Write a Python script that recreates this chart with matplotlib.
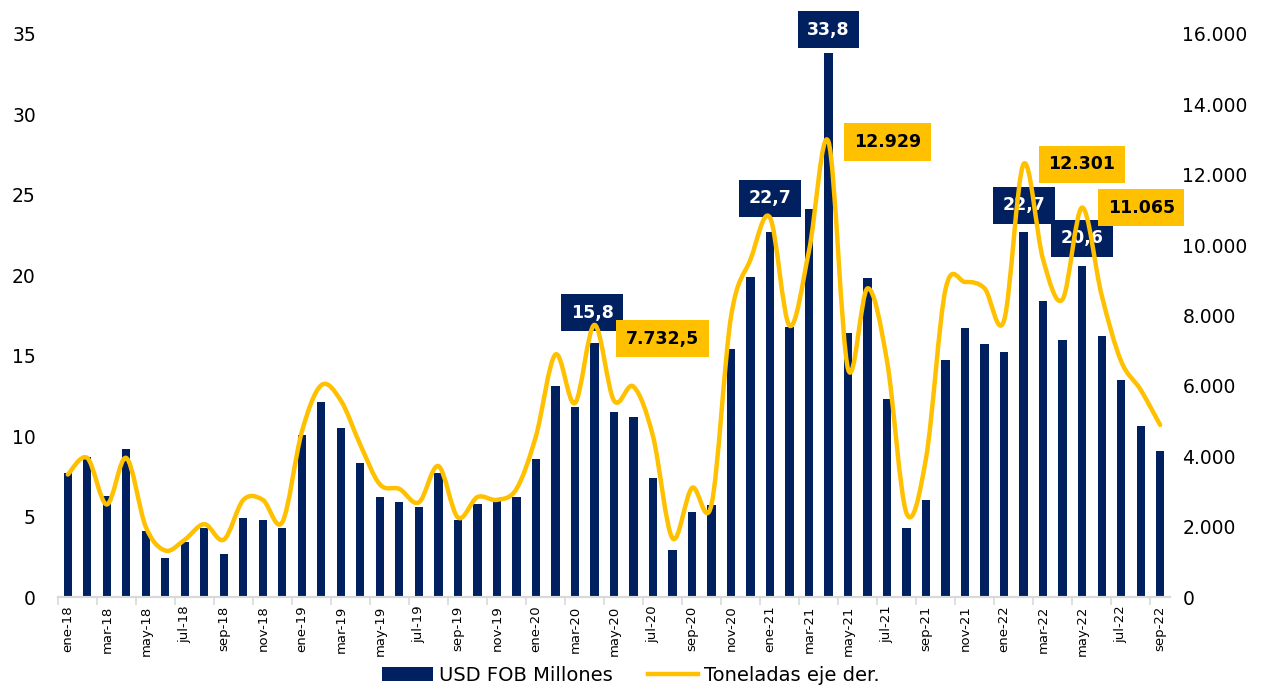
import numpy as np
import matplotlib.pyplot as plt
from matplotlib.path import Path
from matplotlib.patches import PathPatch, Patch
from matplotlib.lines import Line2D
from matplotlib.ticker import FuncFormatter

meses = ['ene', 'feb', 'mar', 'abr', 'may', 'jun', 'jul', 'ago', 'sep', 'oct', 'nov', 'dic']
periodos = [f'{m}-{a}' for a in range(18, 23) for m in meses][:57]

usd_fob = [7.7, 8.7, 6.3, 9.2, 4.1, 2.4, 3.4, 4.3, 2.7, 4.9, 4.8, 4.3,
           10.1, 12.1, 10.5, 8.3, 6.2, 5.9, 5.6, 7.7, 4.8, 5.8, 6.0, 6.2,
           8.6, 13.1, 11.8, 15.8, 11.5, 11.2, 7.4, 2.9, 5.3, 5.7, 15.4, 19.9,
           22.7, 16.8, 24.1, 33.8, 16.4, 19.8, 12.3, 4.3, 6.0, 14.7, 16.7, 15.7,
           15.2, 22.7, 18.4, 16.0, 20.6, 16.2, 13.5, 10.6, 9.1]

toneladas = [3480, 3950, 2630, 3950, 1990, 1320, 1630, 2070, 1630, 2760, 2760, 2130,
             4700, 6020, 5580, 4320, 3200, 3070, 2690, 3720, 2260, 2840, 2760, 3070,
             4570, 6890, 5510, 7732.5, 5580, 5980, 4570, 1670, 3100, 2630, 7960, 9590,
             10780, 7710, 9840, 12929, 6480, 8770, 6700, 2380, 3950, 8750, 8950, 8770,
             7860, 12301, 9590, 8460, 11065, 8580, 6700, 5890, 4890]

# etiquetas destacadas: (indice, texto, dx pt, dy pt)
etiq_usd = [(27, '15,8', -1.5, 21.5), (36, '22,7', 0, 24), (39, '33,8', 0, 17),
            (49, '22,7', 0, 19), (52, '20,6', 0, 19.5)]
etiq_ton = [(27, '7.732,5', 49, -10), (39, '12.929', 42.5, 0),
            (49, '12.301', 42, 0), (52, '11.065', 42.5, 0)]

AZUL = '#002060'
AMARILLO = '#FFC000'


def curva_suave(x, y):
    # curva tipo Excel (Bezier con tangentes Catmull-Rom)
    pts = np.column_stack([x, y]).astype(float)
    n = len(pts)
    verts = [pts[0]]
    codes = [Path.MOVETO]
    for i in range(n - 1):
        p0 = pts[i - 1] if i > 0 else pts[i]
        p1 = pts[i]
        p2 = pts[i + 1]
        p3 = pts[i + 2] if i + 2 < n else pts[i + 1]
        c1 = p1 + (p2 - p0) / 6
        c2 = p2 - (p3 - p1) / 6
        verts += [c1, c2, p2]
        codes += [Path.CURVE4] * 3
    return Path(verts, codes)


def main():
    fig = plt.figure(figsize=(12.62, 6.91), dpi=100)
    ax = fig.add_axes([0.046, 0.136, 0.881, 0.815])
    ax2 = ax.twinx()

    x = np.arange(len(periodos))
    ax.bar(x, usd_fob, width=0.42, color=AZUL, zorder=2)
    ax.set_xlim(-0.5, len(periodos) - 0.5)
    ax.set_ylim(0, 35)
    ax.set_yticks(np.arange(0, 36, 5))

    ax2.add_patch(PathPatch(curva_suave(x, toneladas), facecolor='none',
                            edgecolor=AMARILLO, lw=3.2, capstyle='round',
                            joinstyle='round', zorder=3))
    ax2.set_ylim(0, 16000)
    ax2.set_yticks(np.arange(0, 16001, 2000))
    ax2.yaxis.set_major_formatter(FuncFormatter(lambda v, p: f'{int(v):,}'.replace(',', '.')))

    for a in (ax, ax2):
        for s in ('top', 'left', 'right'):
            a.spines[s].set_visible(False)
        a.spines['bottom'].set_color('#D9D9D9')
        a.spines['bottom'].set_linewidth(1.5)
    ax.tick_params(axis='y', length=0, pad=16, labelsize=13.5)
    ax2.tick_params(axis='y', length=0, pad=9, labelsize=13.5)

    ax.set_xticks(x[::2])
    ax.set_xticklabels(periodos[::2], rotation=90,
                       family=['Liberation Sans Narrow', 'DejaVu Sans'], fontsize=9.5)
    ax.set_xticks(np.arange(-0.5, len(periodos), 2), minor=True)
    ax.tick_params(axis='x', which='major', length=0, pad=6)
    ax.tick_params(axis='x', which='minor', length=6, color='#D9D9D9', width=1.2)

    ax2.set_zorder(ax.get_zorder() + 1)
    ax2.patch.set_visible(False)

    for i, txt, dx, dy in etiq_usd:
        ax.annotate(txt, xy=(i, usd_fob[i]), xytext=(dx, dy), textcoords='offset points',
                    ha='center', va='center', color='white', fontsize=12.5,
                    fontweight='bold', zorder=5, annotation_clip=False,
                    bbox=dict(boxstyle='square,pad=0.55', fc=AZUL, ec='none'))
    for i, txt, dx, dy in etiq_ton:
        ax2.annotate(txt, xy=(i, toneladas[i]), xytext=(dx, dy), textcoords='offset points',
                     ha='center', va='center', color='black', fontsize=12.5,
                     fontweight='bold', zorder=5, annotation_clip=False,
                     bbox=dict(boxstyle='square,pad=0.55', fc=AMARILLO, ec='none'))

    handles = [Patch(facecolor=AZUL, edgecolor='none'),
               Line2D([0], [0], color=AMARILLO, lw=3.2)]
    fig.legend(handles, ['USD FOB Millones', 'Toneladas eje der.'], loc='lower center',
               bbox_to_anchor=(0.5, -0.016), ncol=2, frameon=False, fontsize=14,
               handlelength=2.6, handleheight=0.7, handletextpad=0.3, columnspacing=1.8)

    fig.savefig('out.png', dpi=100)


if __name__ == '__main__':
    main()
